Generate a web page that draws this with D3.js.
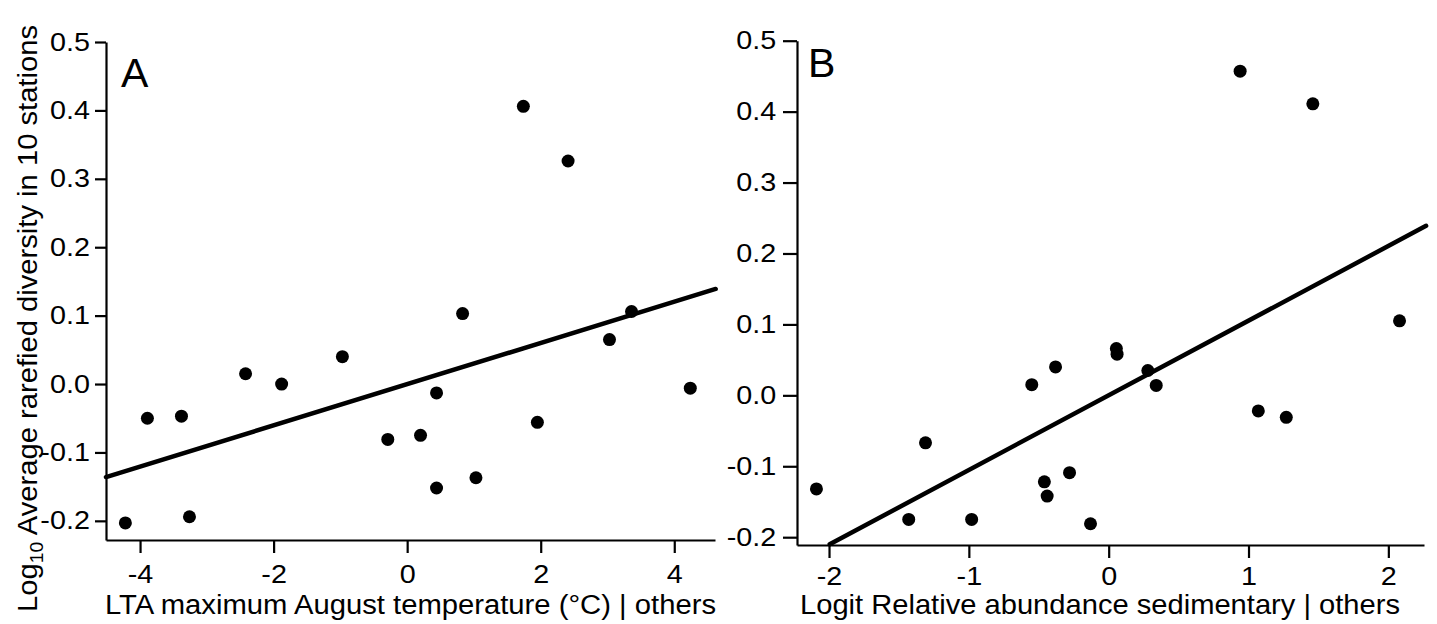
<!DOCTYPE html>
<html>
<head>
<meta charset="utf-8">
<script src="https://cdn.jsdelivr.net/npm/d3@7"></script>
<style>
  body { margin: 0; background: #fff; }
  svg text { font-family: "Liberation Sans", Arial, sans-serif; fill: #000; }
</style>
</head>
<body>
<div id="chart"></div>
<script>
// panel A: LTA maximum August temperature | others
const xA = [-4.22, -3.89, -3.38, -3.26, -2.42, -1.88, -0.97, -0.29, 0.20, 0.44, 0.44, 0.83, 1.03, 1.74, 1.95, 2.41, 3.03, 3.36, 4.24];
const yA = [-0.203, -0.050, -0.047, -0.194, 0.015, 0.000, 0.040, -0.081, -0.075, -0.013, -0.152, 0.103, -0.137, 0.406, -0.056, 0.326, 0.065, 0.106, -0.006];
const fitA = [[-4.51, -0.136], [4.62, 0.139]];
const xTicksA = [-4, -2, 0, 2, 4];
const yTicksA = [-0.2, -0.1, 0.0, 0.1, 0.2, 0.3, 0.4, 0.5];

// panel B: logit relative abundance sedimentary | others
const xB = [-2.09, -1.43, -1.31, -0.98, -0.55, -0.46, -0.44, -0.38, -0.28, -0.13, 0.055, 0.06, 0.28, 0.34, 0.94, 1.07, 1.27, 1.46, 2.08];
const yB = [-0.132, -0.175, -0.067, -0.175, 0.015, -0.122, -0.142, 0.040, -0.109, -0.181, 0.066, 0.058, 0.035, 0.014, 0.457, -0.022, -0.031, 0.411, 0.105];
const fitB = [[-1.995, -0.21], [2.27, 0.239]];
const xTicksB = [-2, -1, 0, 1, 2];
const yTicksB = [-0.2, -0.1, 0.0, 0.1, 0.2, 0.3, 0.4, 0.5];

const width = 1437;
const height = 624;
const stretch = 1.15;

const svg = d3.select("#chart").append("svg")
  .attr("width", width)
  .attr("height", height);

function drawPanel(cfg) {
  const x = d3.scaleLinear().domain(cfg.xDomain).range(cfg.xRange);
  const y = d3.scaleLinear().domain(cfg.yDomain).range(cfg.yRange);
  const g = svg.append("g");

  // y axis
  const yAxis = g.append("g")
    .attr("transform", `translate(${cfg.xRange[0]},0)`)
    .call(d3.axisLeft(y).tickValues(cfg.yTicks).tickFormat(d => d.toFixed(1))
      .tickSize(cfg.yTickSize).tickSizeOuter(0).tickPadding(cfg.yPad));
  // x axis
  const xAxis = g.append("g")
    .attr("transform", `translate(0,${cfg.yRange[0]})`)
    .call(d3.axisBottom(x).tickValues(cfg.xTicks).tickFormat(d => d3.format("d")(d).replace("−", "-"))
      .tickSize(13).tickSizeOuter(0).tickPadding(cfg.xPad));

  [yAxis, xAxis].forEach(ax => {
    ax.select(".domain").attr("stroke", "#000").attr("stroke-width", 2.2);
    ax.selectAll(".tick line").attr("stroke", "#000").attr("stroke-width", 2.2);
    ax.selectAll(".tick text")
      .attr("font-size", 25)
      .attr("font-family", "Liberation Sans, Arial, sans-serif")
      .attr("transform", `scale(${stretch},1)`);
  });

  // regression line
  g.append("path")
    .datum(cfg.fit)
    .attr("fill", "none")
    .attr("stroke", "#000")
    .attr("stroke-width", 4.5)
    .attr("stroke-linecap", "round")
    .attr("d", d3.line().x(d => x(d[0])).y(d => y(d[1])));

  // points
  g.append("g")
    .selectAll("circle")
    .data(d3.zip(cfg.xs, cfg.ys))
    .join("circle")
    .attr("cx", d => x(d[0]))
    .attr("cy", d => y(d[1]))
    .attr("r", 6.5)
    .attr("fill", "#000");

  // panel letter
  g.append("text")
    .attr("x", cfg.letterPos[0])
    .attr("y", cfg.letterPos[1])
    .attr("font-family", "Open Sans, sans-serif")
    .attr("font-size", 41)
    .text(cfg.letter);

  // x title
  g.append("text")
    .attr("x", cfg.titlePos[0])
    .attr("y", cfg.titlePos[1])
    .attr("font-size", cfg.titleSize)
    .attr("textLength", cfg.titleLen)
    .attr("lengthAdjust", "spacingAndGlyphs")
    .text(cfg.xTitle);
}

drawPanel({
  xs: xA, ys: yA, fit: fitA,
  xDomain: [-4.51, 4.61], xRange: [106, 715],
  yDomain: [-0.228, 0.5], yRange: [540, 42],
  xTicks: xTicksA, yTicks: yTicksA,
  yTickSize: 11, yPad: 3, xPad: 12,
  letter: "A", letterPos: [121, 87],
  xTitle: "LTA maximum August temperature (°C) | others",
  titlePos: [105, 614], titleSize: 27, titleLen: 611
});

drawPanel({
  xs: xB, ys: yB, fit: fitB,
  xDomain: [-2.229, 2.255], xRange: [797, 1424],
  yDomain: [-0.211, 0.5], yRange: [545, 40.7],
  xTicks: xTicksB, yTicks: yTicksB,
  yTickSize: 14, yPad: 4, xPad: 9,
  letter: "B", letterPos: [808, 77],
  xTitle: "Logit Relative abundance sedimentary | others",
  titlePos: [800, 614], titleSize: 28, titleLen: 600
});

// y title (panel A only)
const yTitle = svg.append("text")
  .attr("transform", "translate(37,612) rotate(-90)")
  .attr("font-size", 27)
  .attr("textLength", 587)
  .attr("lengthAdjust", "spacingAndGlyphs");
yTitle.append("tspan").text("Log");
yTitle.append("tspan").attr("font-size", 18).attr("dy", 6).text("10");
yTitle.append("tspan").attr("dy", -6).text(" Average rarefied diversity in 10 stations");
</script>
</body>
</html>
